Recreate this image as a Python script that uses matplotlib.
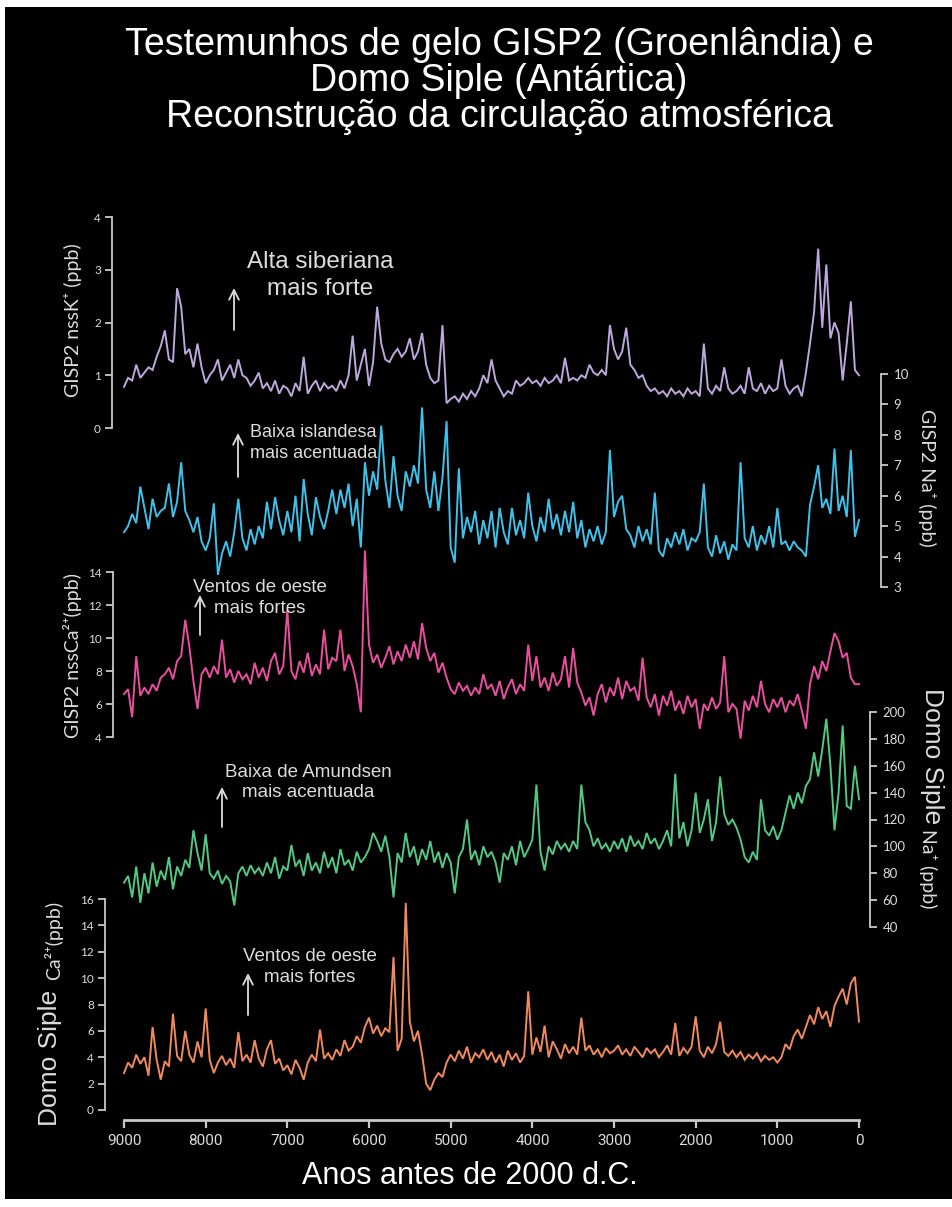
import matplotlib
matplotlib.use("Agg")
import matplotlib.pyplot as plt
from matplotlib.patches import Rectangle

W, H = 953, 1207

# ---------------- data (years before 2000 AD, 50-yr steps, 9000 -> 0) ----------------
YEARS = list(range(9000, -1, -50))

gisp2_nssK = [
    0.78, 0.95, 0.9, 1.2, 0.95, 1.05, 1.15, 1.1, 1.35, 1.55,
    1.85, 1.3, 1.25, 2.65, 2.3, 1.4, 1.5, 1.15, 1.6, 1.15,
    0.85, 1.0, 1.1, 1.3, 0.9, 1.05, 1.2, 0.95, 1.3, 1.0,
    0.95, 0.8, 0.9, 1.05, 0.75, 0.85, 0.7, 0.9, 0.65, 0.8,
    0.75, 0.6, 0.85, 0.7, 1.35, 0.65, 0.8, 0.9, 0.7, 0.85,
    0.75, 0.8, 0.7, 0.9, 0.75, 1.0, 1.75, 0.9, 1.2, 1.5,
    0.8, 1.25, 2.3, 1.6, 1.3, 1.25, 1.4, 1.5, 1.35, 1.45,
    1.7, 1.3, 1.45, 1.8, 1.2, 0.95, 0.85, 0.9, 1.95, 0.47,
    0.55, 0.6, 0.5, 0.65, 0.55, 0.7, 0.6, 0.75, 1.0, 0.85,
    1.3, 0.9, 0.75, 0.6, 0.7, 0.65, 0.9, 0.8, 0.85, 0.95,
    0.85, 0.9, 0.8, 0.95, 0.85, 0.9, 1.0, 0.85, 1.33, 0.9,
    0.95, 0.9, 1.0, 0.95, 1.2, 1.05, 1.0, 1.1, 1.0, 1.95,
    1.5, 1.3, 1.45, 1.9, 1.2, 1.1, 0.95, 1.0, 0.8, 0.7,
    0.75, 0.65, 0.7, 0.6, 0.75, 0.65, 0.7, 0.6, 0.75, 0.65,
    0.7, 0.6, 1.6, 0.75, 0.65, 0.8, 0.7, 1.15, 0.75, 0.65,
    0.7, 0.8, 0.65, 1.15, 0.75, 0.7, 0.85, 0.65, 0.8, 0.7,
    0.75, 1.3, 0.8, 0.65, 0.75, 0.8, 0.6, 1.05, 1.6, 2.2,
    3.4, 1.9, 3.1, 1.7, 2.0, 1.8, 0.9, 1.6, 2.4, 1.1,
    1.0,
]

gisp2_Na = [
    4.8, 5.0, 5.4, 5.1, 6.3, 5.6, 4.9, 5.9, 5.3, 5.5,
    5.6, 6.4, 5.3, 5.8, 7.1, 5.5, 5.2, 4.8, 5.3, 4.5,
    4.2, 4.6, 5.75, 3.4, 4.1, 4.5, 4.0, 4.8, 5.9, 4.6,
    4.2, 4.9, 4.4, 5.0, 4.6, 5.8, 4.9, 5.95, 5.2, 4.7,
    5.5, 4.8, 6.0, 4.5, 6.55, 5.4, 4.7, 5.95, 5.3, 4.9,
    5.5, 6.2, 5.4, 6.2, 5.6, 6.4, 5.0, 5.9, 4.3, 7.1,
    6.0, 6.8, 6.2, 8.3, 6.5, 5.6, 7.3, 6.0, 5.5, 6.8,
    6.3, 7.0, 6.4, 8.9, 6.2, 5.6, 6.8, 5.5, 6.6, 8.45,
    4.3, 3.8, 6.9, 4.6, 5.3, 4.8, 5.5, 4.4, 5.2, 4.6,
    5.5, 4.3, 5.6, 4.8, 4.4, 5.6, 4.7, 5.2, 4.6, 6.1,
    5.0, 4.5, 5.3, 4.8, 5.9, 4.9, 5.4, 4.7, 5.5, 4.8,
    5.8, 4.6, 5.2, 4.3, 4.9, 4.5, 5.0, 4.4, 4.8, 7.5,
    5.3, 5.8, 6.0, 4.9, 4.7, 4.3, 5.0, 4.5, 4.9, 4.4,
    6.1, 4.2, 4.0, 4.6, 4.3, 4.8, 4.4, 4.9, 4.2, 4.6,
    4.5, 4.8, 6.4, 4.3, 4.0, 4.7, 4.1, 4.5, 3.9, 4.4,
    4.2, 7.1, 4.6, 4.3, 5.0, 4.2, 4.7, 4.4, 5.0, 4.3,
    5.6, 4.4, 4.5, 4.2, 4.5, 4.3, 4.2, 4.0, 5.7, 6.3,
    7.0, 5.6, 5.9, 5.4, 7.55, 5.5, 6.0, 5.3, 7.5, 4.65,
    5.2,
]

gisp2_nssCa = [
    6.6, 6.9, 5.2, 8.9, 6.5, 7.0, 6.6, 7.2, 6.8, 7.6,
    7.8, 8.2, 7.5, 8.6, 8.9, 11.1, 9.5, 7.4, 5.7, 7.8,
    8.2, 7.6, 8.3, 7.8, 9.9, 7.6, 8.1, 7.3, 8.0, 7.5,
    7.8, 7.2, 8.5, 7.6, 8.2, 7.4, 8.6, 9.1, 7.8, 8.3,
    11.7, 8.0, 7.5, 8.6, 7.9, 9.1, 7.7, 8.4, 7.8, 10.5,
    8.1, 8.8, 8.6, 10.5, 8.0, 9.0, 8.3, 7.2, 5.5, 15.3,
    9.6, 8.5, 9.0, 8.2, 8.8, 9.5, 8.4, 9.2, 8.6, 9.6,
    8.8, 9.8, 8.7, 10.9, 9.4, 8.6, 9.1, 7.9, 8.5, 7.6,
    6.9, 6.6, 7.3, 6.8, 7.1, 6.5, 7.0, 6.6, 7.8, 6.9,
    7.2, 6.5, 7.4, 6.3, 7.0, 7.5, 6.6, 7.2, 6.8, 9.6,
    7.4, 8.9, 7.0, 7.6, 6.8, 7.9, 7.1, 7.5, 8.9, 7.0,
    9.4, 7.3, 6.7, 5.9, 6.4, 5.3, 6.6, 7.2, 6.1, 7.0,
    6.5, 7.6, 6.3, 7.4, 6.8, 7.0, 6.2, 8.8, 6.4, 5.8,
    6.6, 5.3, 6.5, 5.9, 6.8, 5.6, 6.2, 5.4, 6.5, 5.8,
    6.3, 4.5, 6.0, 5.6, 6.4, 5.7, 6.1, 8.9, 5.5, 6.0,
    5.7, 3.9, 6.2, 5.6, 6.5, 5.8, 7.4, 6.0, 5.5, 6.3,
    5.8, 6.4, 5.5, 6.2, 5.9, 6.6, 5.6, 4.5, 7.2, 8.3,
    7.5, 8.6, 8.0, 9.2, 10.3, 9.8, 8.8, 9.1, 7.6, 7.2,
    7.2,
]

siple_Na = [
    73, 78, 62, 85, 58, 80, 65, 88, 70, 82,
    75, 92, 68, 85, 78, 90, 84, 112, 95, 82,
    109, 80, 76, 82, 72, 78, 74, 56, 80, 85,
    78, 86, 80, 84, 78, 88, 80, 92, 76, 85,
    82, 101, 85, 90, 78, 95, 82, 88, 80, 96,
    84, 92, 80, 98, 86, 90, 82, 96, 88, 92,
    98, 110, 104, 96, 108, 92, 62, 95, 88, 110,
    92, 100, 86, 98, 90, 104, 88, 96, 84, 95,
    88, 65, 92, 98, 120, 90, 97, 86, 100, 92,
    96, 88, 73, 95, 90, 100, 86, 104, 92, 98,
    105, 146, 96, 82, 100, 94, 104, 98, 102, 96,
    104, 98, 146, 118, 112, 100, 106, 98, 102, 96,
    104, 98, 106, 96, 108, 100, 104, 98, 110, 102,
    106, 98, 104, 112, 100, 154, 106, 118, 100, 112,
    140, 110, 120, 135, 104, 118, 152, 124, 116, 120,
    114, 105, 92, 88, 96, 90, 135, 112, 108, 115,
    105, 112, 125, 138, 128, 140, 132, 145, 150, 170,
    152, 172, 195, 160, 112, 140, 190, 130, 128, 160,
    135,
]

siple_Ca = [
    2.8, 3.6, 3.2, 4.2, 3.5, 4.0, 2.6, 6.3, 3.8, 2.3,
    3.7, 3.3, 7.3, 4.1, 3.7, 6.0, 4.2, 3.6, 5.2, 4.0,
    7.7, 3.8, 2.8, 3.6, 4.1, 3.4, 3.9, 3.2, 5.9, 3.7,
    4.2, 3.6, 5.3, 3.9, 3.3, 4.6, 5.3, 3.5, 3.9, 3.0,
    3.4, 2.7, 3.8, 3.2, 2.3, 3.6, 4.2, 3.7, 6.1, 3.9,
    4.3, 3.8, 4.6, 4.1, 5.3, 4.5, 4.8, 5.6, 5.1, 6.3,
    7.0, 5.8, 6.4, 5.6, 6.2, 5.9, 11.6, 4.5, 5.4, 15.7,
    6.7, 5.2, 6.0, 4.2, 2.0, 1.5, 2.3, 2.8, 2.5, 3.6,
    4.2, 3.7, 4.5, 3.9, 4.8, 3.6, 4.3, 4.0, 4.6, 3.8,
    4.4, 3.6, 4.2, 3.3, 4.5, 3.8, 4.3, 3.6, 4.1, 9.0,
    4.2, 5.5, 4.4, 6.4, 4.0, 5.2, 4.6, 3.9, 5.0, 4.3,
    4.8, 4.2, 7.0, 4.5, 4.9, 4.2, 4.6, 4.0, 4.7, 4.3,
    4.5, 4.9, 4.2, 4.6, 4.1, 4.8, 4.4, 4.0, 4.7, 4.3,
    4.6, 4.0, 4.4, 4.9, 4.2, 6.6, 4.1, 4.7, 4.3, 4.8,
    7.1, 4.5, 4.0, 4.8, 4.3, 5.0, 6.7, 4.4, 4.1, 4.5,
    4.0, 4.4, 3.8, 4.2, 3.9, 4.3, 3.7, 4.1, 3.8, 4.0,
    3.6, 4.0, 5.0, 4.6, 5.6, 6.1, 5.4, 6.3, 7.2, 6.5,
    7.8, 6.9, 7.5, 6.3, 7.9, 8.6, 9.2, 8.0, 9.6, 10.1,
    6.7,
]

X_TICKS = list(range(9000, -1, -1000))
X_TICKLABELS = [str(v) for v in X_TICKS]

TITLE_LINES = ["Testemunhos de gelo GISP2 (Groenlândia) e",
               "Domo Siple (Antártica)",
               "Reconstrução da circulação atmosférica"]
XLABEL = "Anos antes de 2000 d.C."

# ---------------- styling helpers ----------------
SANS = ["Liberation Sans", "DejaVu Sans"]
LBL = ["Lato", "DejaVu Sans"]
NARROW = ["Liberation Sans Narrow", "Roboto", "DejaVu Sans"]
AXC = "#c8c8c8"
TXC = "#dcdcdc"

X0, X1 = 124, 859   # pixel x of 9000 and 0


def F(x, y):
    """pixel (from top-left) -> figure fraction"""
    return x / W, 1 - y / H


fig = plt.figure(figsize=(W / 100, H / 100), dpi=100)
fig.patch.set_facecolor("white")
fig.patches.append(Rectangle((5 / W, 1 - 1199 / H), (W - 5) / W, (1199 - 7) / H,
                             transform=fig.transFigure, facecolor="black",
                             edgecolor="none", zorder=-10))


def panel(values, color, ylim, yticks, ytop, ybot, side, outward_px, labelsize=8.5, pad=3):
    ax = fig.add_axes([X0 / W, 1 - ybot / H, (X1 - X0) / W, (ybot - ytop) / H])
    ax.patch.set_alpha(0)
    ax.set_xlim(9000, 0)
    ax.set_ylim(*ylim)
    for s in ax.spines.values():
        s.set_visible(False)
    ax.tick_params(axis="x", bottom=False, labelbottom=False)
    sp = ax.spines[side]
    sp.set_visible(True)
    sp.set_position(("outward", outward_px * 0.72))
    sp.set_color(AXC)
    sp.set_linewidth(1.3)
    if side == "right":
        ax.yaxis.tick_right()
        ax.tick_params(axis="y", left=False, right=True, labelleft=False, labelright=True)
    else:
        ax.yaxis.tick_left()
    ax.set_yticks(yticks)
    ax.tick_params(axis="y", colors=AXC, length=5, width=1.3, labelsize=labelsize,
                   pad=pad, labelcolor=TXC)
    for t in ax.get_yticklabels():
        t.set_fontfamily(LBL)
    ax.plot(YEARS, values, color=color, lw=1.4, clip_on=False, solid_joinstyle="miter")
    return ax


ax1 = panel(gisp2_nssK, "#bca8dc", (0, 4), [0, 1, 2, 3, 4], 217, 428, "left", 12)
ax2 = panel(gisp2_Na, "#3ec2ea", (3, 10), list(range(3, 11)), 374, 587, "right", 22,
            labelsize=9.5, pad=4)
ax3 = panel(gisp2_nssCa, "#ea4f9f", (4, 14), [4, 6, 8, 10, 12, 14], 572, 737, "left", 11)
ax4 = panel(siple_Na, "#52c883", (40, 200), list(range(40, 201, 20)), 712, 927, "right", 11,
            labelsize=9.5, pad=4)
ax5 = panel(siple_Ca, "#f08a5d", (0, 16), list(range(0, 17, 2)), 899, 1110, "left", 19)

# x axis on bottom panel
sb = ax5.spines["bottom"]
sb.set_visible(True)
sb.set_position(("outward", 10 * 0.72))
sb.set_color(AXC)
sb.set_linewidth(2.0)
ax5.set_xticks(X_TICKS)
ax5.set_xticklabels(X_TICKLABELS)
ax5.tick_params(axis="x", bottom=True, labelbottom=True, length=6, width=1.6,
                colors=AXC, labelcolor=TXC, labelsize=11, pad=4)
for t in ax5.get_xticklabels():
    t.set_fontfamily(NARROW)

# title
for txt, yb in zip(TITLE_LINES, [55, 91, 127]):
    fig.text(*F(499, yb), txt, ha="center", va="baseline", fontsize=27,
             color="white", family=SANS)

# x label
fig.text(*F(470, 1184), XLABEL, ha="center", va="baseline", fontsize=22,
         color="white", family=SANS)

# y labels
fig.text(*F(73, 320), "GISP2 nssK\u207a (ppb)", rotation=90, ha="center", va="center",
         fontsize=14, color=TXC, family=LBL)
fig.text(*F(927, 478), "GISP2 Na\u207a (ppb)", rotation=270, ha="center", va="center",
         fontsize=14, color=TXC, family=LBL)
fig.text(*F(72, 656), "GISP2 nssCa\u00b2\u207a(ppb)", rotation=90, ha="center", va="center",
         fontsize=14, color=TXC, family=LBL)
fig.text(*F(932, 756), "Domo Siple", rotation=270, ha="center", va="center",
         fontsize=19, color=TXC, family=SANS)
fig.text(*F(928, 869), "Na\u207a (ppb)", rotation=270, ha="center", va="center",
         fontsize=14, color=TXC, family=LBL)
fig.text(*F(50, 1058), "Domo Siple", rotation=90, ha="center", va="center",
         fontsize=19, color=TXC, family=SANS)
fig.text(*F(54, 940), "Ca\u00b2\u207a(ppb)", rotation=90, ha="center", va="center",
         fontsize=14, color=TXC, family=LBL)

# annotations: (lines, x, baselines, ha, fontsize)
ANNOT = [
    (["Alta siberiana", "mais forte"], 320, [268, 295], "center", 17.5),
    (["Baixa islandesa", "mais acentuada"], 250, [437, 458], "left", 13),
    (["Ventos de oeste", "mais fortes"], 260, [592, 613], "center", 13.5),
    (["Baixa de Amundsen", "mais acentuada"], 308, [777, 797], "center", 13.5),
    (["Ventos de oeste", "mais fortes"], 310, [961, 982], "center", 13.5),
]
for lines, x, ybs, ha, fs in ANNOT:
    for ln, yb in zip(lines, ybs):
        fig.text(*F(x, yb), ln, ha=ha, va="baseline", fontsize=fs, color=TXC, family=SANS)

ARROWS = [(234, 330, 288), (238, 477, 433), (200, 635, 595), (222, 827, 787), (248, 1015, 973)]
for x, yb, yt in ARROWS:
    ax1.annotate("", xy=F(x, yt), xytext=F(x, yb), xycoords="figure fraction",
                 textcoords="figure fraction", annotation_clip=False,
                 arrowprops=dict(arrowstyle="->,head_length=0.7,head_width=0.35",
                                 color=TXC, lw=1.3, shrinkA=0, shrinkB=0))

fig.savefig("out.png", dpi=100, facecolor=fig.get_facecolor())
